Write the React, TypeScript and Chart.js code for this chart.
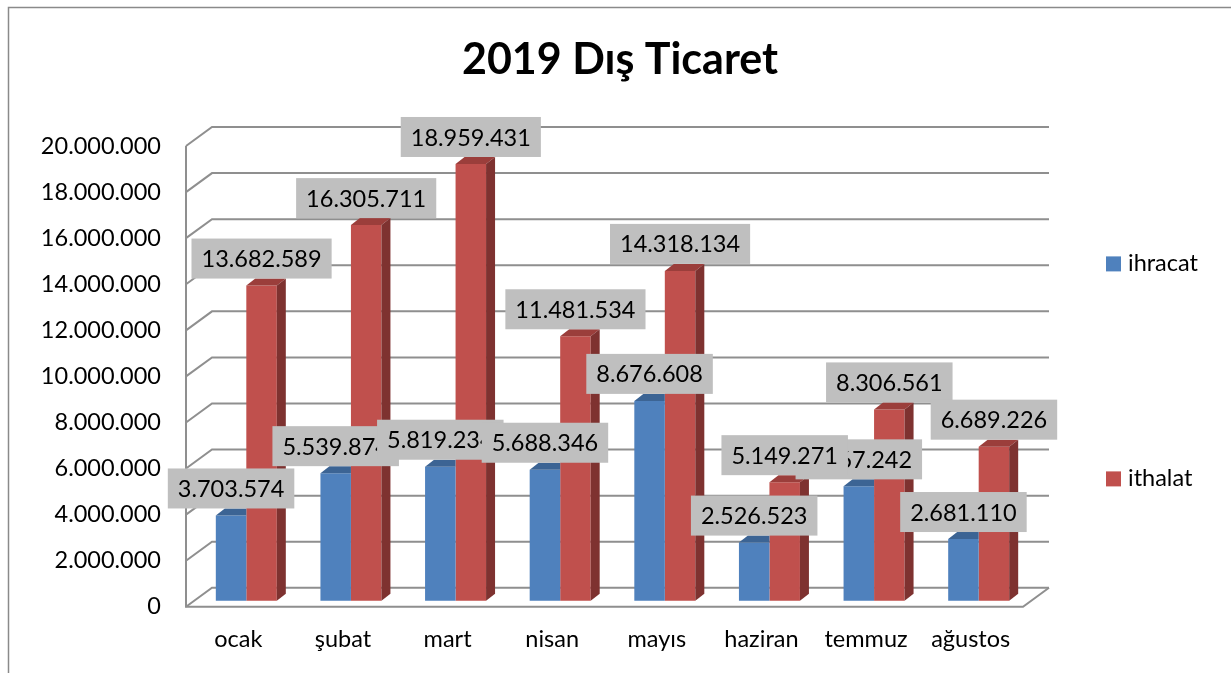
import React, { useEffect, useRef } from 'react';
import { Chart, registerables } from 'chart.js';

Chart.register(...registerables);

const titleText = '2019 Dış Ticaret';
const categories = ['ocak', 'şubat', 'mart', 'nisan', 'mayıs', 'haziran', 'temmuz', 'ağustos'];
const seriesNames = ['ihracat', 'ithalat'];
const ihracat = [3703574, 5539874, 5819234, 5688346, 8676608, 2526523, 4967242, 2681110];
const ithalat = [13682589, 16305711, 18959431, 11481534, 14318134, 5149271, 8306561, 6689226];
const yMin = 0;
const yMax = 20000000;
const yStep = 2000000;

const frontColors = ['#4F81BD', '#C0504D'];
const topColors = ['#3C6494', '#9B3E3B'];
const sideColors = ['#385D8A', '#7E3230'];

const FONT = 'Lato';
const FS = 23.5;
const DEPTH_X = 26;
const DEPTH_Y = 19;
const SHIFT_X = 8;
const SHIFT_Y = -6;
const BAR_DX = 9;
const BAR_DY = 7;

const fmt = (v: number) => Math.round(v).toString().replace(/\B(?=(\d{3})+(?!\d))/g, '.');

const excel3d = {
  id: 'excel3d',
  beforeDraw(chart: any) {
    const { ctx, width, height } = chart;
    ctx.save();
    ctx.fillStyle = '#ffffff';
    ctx.fillRect(0, 0, width, height);
    ctx.strokeStyle = '#8a8a8a';
    ctx.lineWidth = 1.5;
    ctx.beginPath();
    ctx.moveTo(8.5, height);
    ctx.lineTo(8.5, 7.5);
    ctx.lineTo(width, 7.5);
    ctx.stroke();
    ctx.restore();
  },
  beforeDatasetsDraw(chart: any) {
    const { ctx, chartArea } = chart;
    const { left, right, top, bottom } = chartArea;
    const ys = chart.scales.y;
    ctx.save();
    ctx.strokeStyle = '#8f8f8f';
    ctx.lineWidth = 2;
    ys.ticks.forEach((t: any) => {
      const yf = ys.getPixelForValue(t.value);
      ctx.beginPath();
      ctx.moveTo(left, yf);
      ctx.lineTo(left + DEPTH_X, yf - DEPTH_Y);
      ctx.lineTo(right + DEPTH_X, yf - DEPTH_Y);
      ctx.stroke();
    });
    ctx.beginPath();
    ctx.moveTo(left, top);
    ctx.lineTo(left, bottom);
    ctx.lineTo(right, bottom);
    ctx.lineTo(right + DEPTH_X, bottom - DEPTH_Y);
    ctx.stroke();
    ctx.restore();
    ctx.save();
    ctx.translate(SHIFT_X, SHIFT_Y);
  },
  afterDatasetDraw(chart: any, args: any) {
    const { ctx } = chart;
    const di = args.index;
    const meta = chart.getDatasetMeta(di);
    const last = di === chart.data.datasets.length - 1;
    meta.data.forEach((bar: any) => {
      const { x, y, width, base } = bar.getProps(['x', 'y', 'width', 'base'], true);
      const x0 = x - width / 2;
      const x1 = x + width / 2;
      ctx.fillStyle = topColors[di];
      ctx.beginPath();
      ctx.moveTo(x0, y);
      ctx.lineTo(x1, y);
      if (last) {
        ctx.lineTo(x1 + BAR_DX, y - BAR_DY);
      } else {
        ctx.lineTo(x1, y - BAR_DY);
      }
      ctx.lineTo(x0 + BAR_DX, y - BAR_DY);
      ctx.closePath();
      ctx.fill();
      if (last) {
        ctx.fillStyle = sideColors[di];
        ctx.beginPath();
        ctx.moveTo(x1, y);
        ctx.lineTo(x1 + BAR_DX, y - BAR_DY);
        ctx.lineTo(x1 + BAR_DX, base - BAR_DY);
        ctx.lineTo(x1, base);
        ctx.closePath();
        ctx.fill();
      }
    });
  },
  afterDatasetsDraw(chart: any) {
    const { ctx } = chart;
    ctx.restore();
    ctx.save();
    ctx.font = `${FS}px ${FONT}`;
    ctx.textAlign = 'center';
    ctx.textBaseline = 'middle';
    chart.data.datasets.forEach((ds: any, di: number) => {
      const meta = chart.getDatasetMeta(di);
      meta.data.forEach((bar: any, i: number) => {
        const { x, y } = bar.getProps(['x', 'y'], true);
        const txt = fmt(ds.data[i]);
        const w = ctx.measureText(txt).width + 20;
        const h = 40;
        const cx = x + SHIFT_X;
        const cy = y + SHIFT_Y - 27;
        ctx.fillStyle = '#BFBFBF';
        ctx.fillRect(cx - w / 2, cy - h / 2, w, h);
        ctx.fillStyle = '#000000';
        ctx.fillText(txt, cx, cy + 1);
      });
    });
    ctx.restore();
  },
  afterDraw(chart: any) {
    const { ctx, chartArea } = chart;
    const midY = (chartArea.top + chartArea.bottom) / 2 - 5;
    const ys = [midY - 107.5, midY + 107.5];
    const sx = chartArea.right + 83;
    ctx.save();
    ctx.font = `${FS}px ${FONT}`;
    ctx.textAlign = 'left';
    ctx.textBaseline = 'middle';
    chart.data.datasets.forEach((ds: any, di: number) => {
      ctx.fillStyle = ds.backgroundColor;
      ctx.fillRect(sx, ys[di] - 7.5, 15, 15);
      ctx.fillStyle = '#000000';
      ctx.fillText(ds.label, sx + 22, ys[di]);
    });
    ctx.restore();
  },
};

export default function App() {
  const ref = useRef<HTMLCanvasElement | null>(null);
  useEffect(() => {
    if (!ref.current) return;
    const chart = new Chart(ref.current, {
      type: 'bar',
      data: {
        labels: categories,
        datasets: [
          { label: seriesNames[0], data: ihracat, backgroundColor: frontColors[0], clip: false as any, yAxisID: 'y' },
          { label: seriesNames[1], data: ithalat, backgroundColor: frontColors[1], clip: false as any, yAxisID: 'y' },
        ],
      },
      options: {
        animation: false,
        responsive: true,
        maintainAspectRatio: false,
        layout: { padding: { left: 9, right: 0, top: 0, bottom: 0 } },
        datasets: { bar: { barPercentage: 1, categoryPercentage: 0.583 } },
        scales: {
          x: {
            grid: { display: false, drawTicks: false },
            border: { display: false },
            ticks: { color: '#000', font: { family: FONT, size: FS }, padding: 19, maxRotation: 0 },
          },
          y: {
            min: yMin,
            max: yMax,
            grid: { display: false, drawTicks: false },
            border: { display: false },
            ticks: {
              stepSize: yStep,
              color: '#000',
              font: { family: FONT, size: FS },
              padding: 25,
              callback: (v: any) => fmt(Number(v)),
            },
            afterFit: (scale: any) => {
              scale.width = 177;
              scale.paddingTop = 0;
              scale.paddingBottom = 0;
            },
          },
          yRight: {
            position: 'right',
            display: true,
            min: yMin,
            max: yMax,
            grid: { display: false, drawTicks: false },
            border: { display: false },
            ticks: { display: false },
            afterFit: (scale: any) => {
              scale.width = 208;
              scale.paddingTop = 0;
              scale.paddingBottom = 0;
            },
          },
        },
        plugins: {
          legend: { display: false },
          tooltip: { enabled: false },
          title: {
            display: true,
            text: titleText,
            color: '#000',
            font: { family: FONT, size: 43, weight: 'bold' },
            padding: { top: 34.2, bottom: 60.2 },
          },
        },
      },
      plugins: [excel3d],
    });
    return () => chart.destroy();
  }, []);
  return (
    <div style={{ position: 'fixed', left: 0, top: 0, width: 1231, height: 673, background: '#fff' }}>
      <canvas ref={ref} />
    </div>
  );
}
